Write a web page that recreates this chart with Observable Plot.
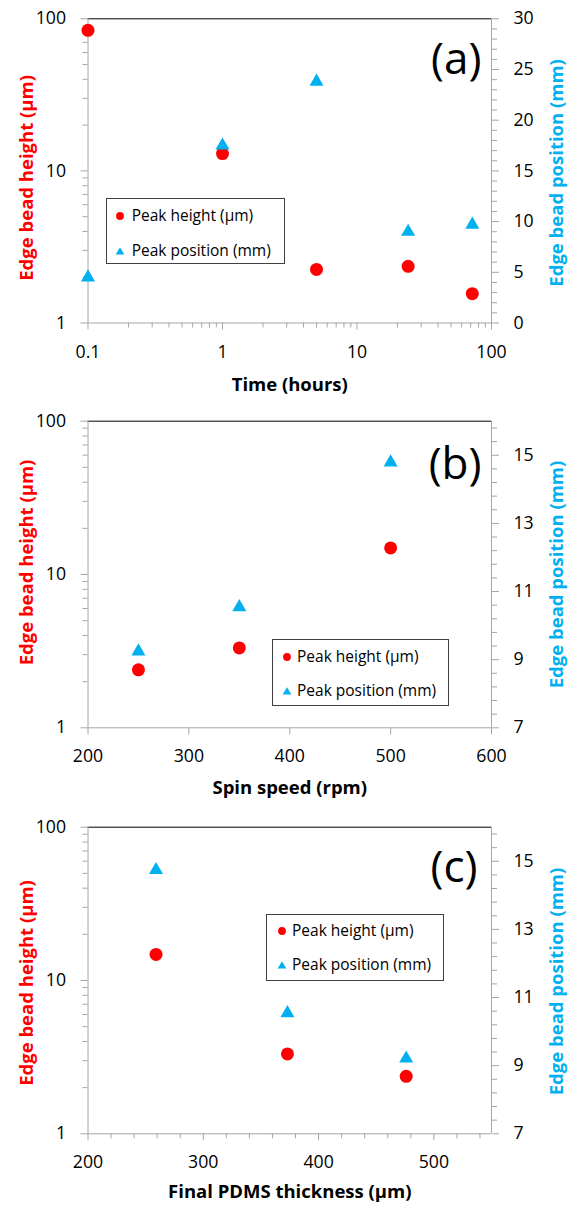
<!DOCTYPE html>
<html><head><meta charset="utf-8">
<script src="https://cdn.jsdelivr.net/npm/d3@7"></script>
<script src="https://cdn.jsdelivr.net/npm/@observablehq/plot@0.6"></script>
<style>
body{margin:0;background:#fff;font-family:"Open Sans",sans-serif;}
#root{position:relative;width:568px;height:1209px;overflow:hidden;background:#fff;}
.layer{position:absolute;left:0;}
.layer svg{position:absolute;left:0;top:0;}
.legend{position:absolute;border:1px solid #404040;background:#fff;box-sizing:border-box;}
.legend .lt{position:absolute;white-space:nowrap;font-size:15.5px;line-height:20px;color:#000;font-family:"Open Sans",sans-serif;}
.legend svg.mk{position:absolute;}
</style></head><body><div id="root"></div>
<script>
// ---- data ----
const timeHours = [0.1, 1, 5, 24, 72];
const timePeakHeight = [84, 13.0, 2.25, 2.36, 1.56];
const timePeakPosition = [4.7, 17.7, 24.0, 9.2, 9.9];

const spinSpeed = [250, 350, 500];
const spinPeakHeight = [2.39, 3.32, 14.9];
const spinPeakPosition = [9.3, 10.6, 14.85];

const pdmsThickness = [259, 373, 476];
const pdmsPeakHeight = [14.8, 3.32, 2.37];
const pdmsPeakPosition = [14.8, 10.6, 9.27];

// ---- ticks and labels ----
const heightTicks = [1, 10, 100];
const timeTicks = [0.1, 1, 10, 100];
const spinTicks = [200, 300, 400, 500, 600];
const pdmsTicks = [200, 300, 400, 500];
const positionTicksA = [0, 5, 10, 15, 20, 25, 30];
const positionTicksBC = [7, 9, 11, 13, 15];
const legendLabels = ["Peak height (µm)", "Peak position (mm)"];
const panelLetters = ["(a)", "(b)", "(c)"];
const xTitles = ["Time (hours)", "Spin speed (rpm)", "Final PDMS thickness (µm)"];
const leftTitle = "Edge bead height (µm)";
const rightTitle = "Edge bead position (mm)";

const heightMinor = [1, 10].flatMap(d => d3.range(2, 10).map(k => k * d));
const timeMinor = [0.1, 1, 10].flatMap(d => d3.range(2, 10).map(k => +(k * d).toFixed(2)));
const pdmsMinor = d3.range(220, 550, 20).filter(v => v % 100 !== 0);
const posMinorA = d3.range(1, 30).filter(v => v % 5 !== 0);
const posMinorBC = d3.range(0, 23).map(i => +(7 + i * 0.4).toFixed(1)).filter(v => !positionTicksBC.includes(v));

const RED = "#ff0000", BLUE = "#00b0f0", GRAY = "#a6a6a6";
const FONT = "'Open Sans', sans-serif";
const TICK_FS = 17.7, TITLE_FS = 18.5, LETTER_FS = 44;
const ML = 87.5, MR = 77;

const panels = [
  {top: 0, height: 400, mt: 18.3, mb: 77.5, x: {type: "log", domain: [0.1, 100]},
   xTicks: timeTicks, xMinor: timeMinor, xs: timeHours, hs: timePeakHeight, ps: timePeakPosition,
   rDomain: [0, 30], rTicks: positionTicksA, rMinor: posMinorA,
   letterDx: -10, letterDy: 41, leftDy: 7, rightDy: 2, xTitleDy: 62.5,
   legend: {left: 106, top: 198, w: 179, h: 66, mx: 13.3, tx: 24.7, rows: [17, 52]}},
  {top: 400, height: 400, mt: 20.7, mb: 72.7, x: {type: "linear", domain: [200, 600]},
   xTicks: spinTicks, xMinor: [], xs: spinSpeed, hs: spinPeakHeight, ps: spinPeakPosition,
   rDomain: [7, 16], rTicks: positionTicksBC, rMinor: posMinorBC,
   letterDx: -10, letterDy: 44, leftDy: -12, rightDy: 0, xTitleDy: 60.7,
   legend: {left: 272, top: 239, w: 177, h: 67, mx: 14, tx: 24, rows: [17, 51]}},
  {top: 800, height: 409, mt: 26.7, mb: 75.7, x: {type: "linear", domain: [200, 550]},
   xTicks: pdmsTicks, xMinor: pdmsMinor, xs: pdmsThickness, hs: pdmsPeakHeight, ps: pdmsPeakPosition,
   rDomain: [7, 16], rTicks: positionTicksBC, rMinor: posMinorBC,
   letterDx: -14, letterDy: 41, leftDy: 2.5, rightDy: 1, xTitleDy: 58.4,
   legend: {left: 266, top: 114, w: 178, h: 67, mx: 15, tx: 25, rows: [16, 50]}}
];

const root = document.getElementById("root");

panels.forEach((p, k) => {
  const wrap = document.createElement("div");
  wrap.className = "layer";
  wrap.style.top = p.top + "px";
  wrap.style.width = "568px";
  wrap.style.height = p.height + "px";

  const common = {
    width: 568, height: p.height,
    marginTop: p.mt, marginBottom: p.mb, marginLeft: ML, marginRight: MR,
    style: {fontFamily: FONT, background: "transparent", overflow: "visible", color: "#000"}
  };
  const hRows = p.xs.map((x, i) => ({x, v: p.hs[i]}));
  const pRows = p.xs.map((x, i) => ({x, v: p.ps[i]}));

  const main = Plot.plot({
    ...common,
    x: {...p.x, label: null},
    y: {type: "log", domain: [1, 100], label: null},
    marks: [
      Plot.ruleY([100], {stroke: "#000"}),
      Plot.ruleY([1], {stroke: GRAY}),
      Plot.ruleX([p.x.domain[0]], {stroke: GRAY}),
      Plot.ruleX([p.x.domain[1]], {stroke: GRAY}),
      Plot.axisY({ticks: heightTicks, tickSize: 7, tickPadding: 15, stroke: GRAY, fill: "#000", fontSize: TICK_FS, tickFormat: d => String(d), label: null}),
      Plot.axisY({ticks: heightMinor, tickSize: 5, tickFormat: () => "", stroke: GRAY, label: null}),
      Plot.axisX({ticks: p.xTicks, tickSize: 7, tickPadding: 15, stroke: GRAY, fill: "#000", fontSize: TICK_FS, tickFormat: d => String(d), label: null}),
      p.xMinor.length ? Plot.axisX({ticks: p.xMinor, tickSize: 5, tickFormat: () => "", stroke: GRAY, label: null}) : null,
      Plot.text([leftTitle], {text: d => d, frameAnchor: "left", rotate: -90, dx: -61, dy: p.leftDy, fill: RED, fontWeight: "bold", fontSize: TITLE_FS, textAnchor: "middle", lineAnchor: "middle"}),
      Plot.text([xTitles[k]], {text: d => d, frameAnchor: "bottom", dy: p.xTitleDy, fill: "#000", fontWeight: "bold", fontSize: TITLE_FS, textAnchor: "middle", lineAnchor: "middle"}),
      Plot.text([panelLetters[k]], {text: d => d, frameAnchor: "top-right", dx: p.letterDx, dy: p.letterDy, fill: "#000", fontSize: LETTER_FS, textAnchor: "end", lineAnchor: "middle"}),
      Plot.dot(hRows, {x: "x", y: "v", r: 6.5, fill: RED})
    ]
  });

  const over = Plot.plot({
    ...common,
    x: {...p.x, label: null, axis: null},
    y: {type: "linear", domain: p.rDomain, label: null},
    marks: [
      Plot.axisY({anchor: "right", ticks: p.rTicks, tickSize: 7, tickPadding: 15, stroke: GRAY, fill: "#000", fontSize: TICK_FS, tickFormat: d => String(d), label: null}),
      Plot.axisY({anchor: "right", ticks: p.rMinor, tickSize: 5, tickFormat: () => "", stroke: GRAY, label: null}),
      Plot.text([rightTitle], {text: d => d, frameAnchor: "right", rotate: -90, dx: 66, dy: p.rightDy, fill: BLUE, fontWeight: "bold", fontSize: TITLE_FS, textAnchor: "middle", lineAnchor: "middle"}),
      Plot.dot(pRows, {x: "x", y: "v", symbol: "triangle", r: 5.2, fill: BLUE, dy: 2})
    ]
  });

  wrap.appendChild(main);
  wrap.appendChild(over);

  // legend
  const L = p.legend;
  const lg = document.createElement("div");
  lg.className = "legend";
  lg.style.left = L.left + "px";
  lg.style.top = L.top + "px";
  lg.style.width = L.w + "px";
  lg.style.height = L.h + "px";
  legendLabels.forEach((lab, i) => {
    const ns = "http://www.w3.org/2000/svg";
    const s = document.createElementNS(ns, "svg");
    s.setAttribute("class", "mk");
    s.setAttribute("width", 12); s.setAttribute("height", 12);
    s.style.left = (L.mx - 6) + "px";
    s.style.top = (L.rows[i] - 6) + "px";
    if (i === 0) {
      const c = document.createElementNS(ns, "circle");
      c.setAttribute("cx", 6); c.setAttribute("cy", 6); c.setAttribute("r", 3.9);
      c.setAttribute("fill", RED);
      s.appendChild(c);
    } else {
      const t = document.createElementNS(ns, "path");
      t.setAttribute("d", "M6,2.2L10.3,9.6L1.7,9.6Z");
      t.setAttribute("fill", BLUE);
      s.appendChild(t);
    }
    lg.appendChild(s);
    const tx = document.createElement("div");
    tx.className = "lt";
    tx.textContent = lab;
    tx.style.left = L.tx + "px";
    tx.style.top = (L.rows[i] - 11) + "px";
    lg.appendChild(tx);
  });
  wrap.appendChild(lg);
  root.appendChild(wrap);
});
</script></body></html>
